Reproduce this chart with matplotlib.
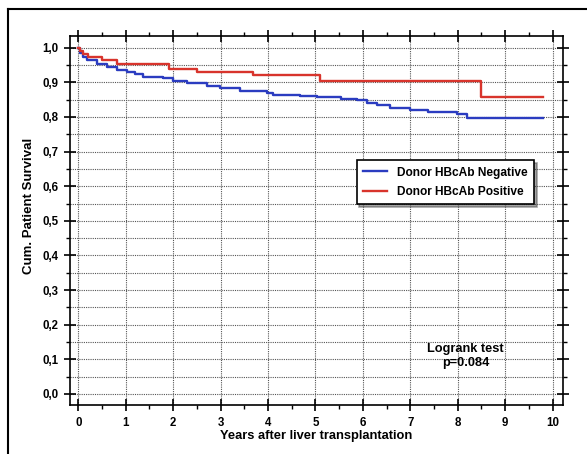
import numpy as np
import matplotlib
matplotlib.use("Agg")
import matplotlib.pyplot as plt
from matplotlib.lines import Line2D

plt.rcParams['font.family'] = ['Liberation Sans', 'DejaVu Sans']

# Kaplan-Meier step data
neg_t = [0.0, 0.04, 0.09, 0.18, 0.39, 0.60, 0.81, 1.02, 1.20, 1.37, 1.79, 2.00, 2.29,
         2.71, 2.99, 3.41, 3.97, 4.11, 4.68, 5.03, 5.53, 5.87, 6.08, 6.30, 6.58,
         7.00, 7.38, 7.98, 8.19, 9.80]
neg_s = [1.000, 0.985, 0.972, 0.964, 0.953, 0.945, 0.936, 0.931, 0.924, 0.916, 0.912,
         0.904, 0.897, 0.890, 0.884, 0.876, 0.870, 0.863, 0.860, 0.858, 0.853, 0.849,
         0.841, 0.834, 0.825, 0.820, 0.813, 0.808, 0.797, 0.797]

pos_t = [0.0, 0.04, 0.09, 0.21, 0.49, 0.81, 1.92, 2.50, 3.69, 5.10, 8.50, 9.80]
pos_s = [1.000, 0.991, 0.981, 0.972, 0.964, 0.954, 0.940, 0.931, 0.921, 0.905, 0.857, 0.857]

labels = ['Donor HBcAb Negative', 'Donor HBcAb Positive']
colors = ['#2b3cc0', '#d8342c']

fig = plt.figure(figsize=(5.87, 4.54), dpi=100)
ax = fig.add_axes([0.1193, 0.108, 0.8397, 0.8127])

ax.step(neg_t, neg_s, where='post', color=colors[0], lw=1.7, label=labels[0])
ax.step(pos_t, pos_s, where='post', color=colors[1], lw=1.7, label=labels[1])

ax.set_xlim(-0.175, 10.22)
ax.set_ylim(-0.032, 1.034)
ax.set_xticks(np.arange(0, 11, 1))
ax.set_xticks(np.arange(0.5, 10, 1), minor=True)
ax.set_yticks(np.arange(0, 1.01, 0.1))
ax.set_yticks(np.arange(0.05, 1.0, 0.1), minor=True)
ax.set_yticklabels([('%.1f' % v).replace('.', ',') for v in np.arange(0, 1.01, 0.1)])

ax.tick_params(which='major', direction='inout', length=9, width=1.2,
               top=True, right=True, labelsize=8.3, pad=4)
ax.tick_params(which='minor', direction='out', length=3, width=1,
               top=True, right=True)
for lab in ax.get_xticklabels() + ax.get_yticklabels():
    lab.set_fontweight('bold')

ax.grid(which='major', linestyle=(0, (1, 1)), color='#555555', lw=0.8)
ax.grid(which='minor', axis='y', linestyle=(0, (1, 1)), color='#555555', lw=0.8)
for s in ax.spines.values():
    s.set_linewidth(1.2)

ax.set_xlabel('Years after liver transplantation', fontsize=9.3, fontweight='bold', labelpad=1)
ax.set_ylabel('Cum. Patient Survival', fontsize=9.5, fontweight='bold')
ax.yaxis.set_label_coords(-0.071, 0.54)

leg = ax.legend(loc='upper left', bbox_to_anchor=(0.5815, 0.664), borderaxespad=0,
                fancybox=False, shadow=True, edgecolor='black', framealpha=1,
                prop={'weight': 'bold', 'size': 8.6}, handlelength=2.0,
                handletextpad=0.8, borderpad=0.55, labelspacing=0.6)
leg.get_frame().set_linewidth(1.2)

ax.text(8.17, 0.11, 'Logrank test\np=0.084', ha='center', va='center',
        fontsize=9.2, fontweight='bold', linespacing=1.2)

# outer frame lines (left and top edges)
fig.add_artist(Line2D([0.0136, 0.0136], [0.0, 0.980], color='black', lw=1.5))
fig.add_artist(Line2D([0.0136, 1.0], [0.980, 0.980], color='black', lw=1.5))

fig.savefig('out.png', dpi=100)
